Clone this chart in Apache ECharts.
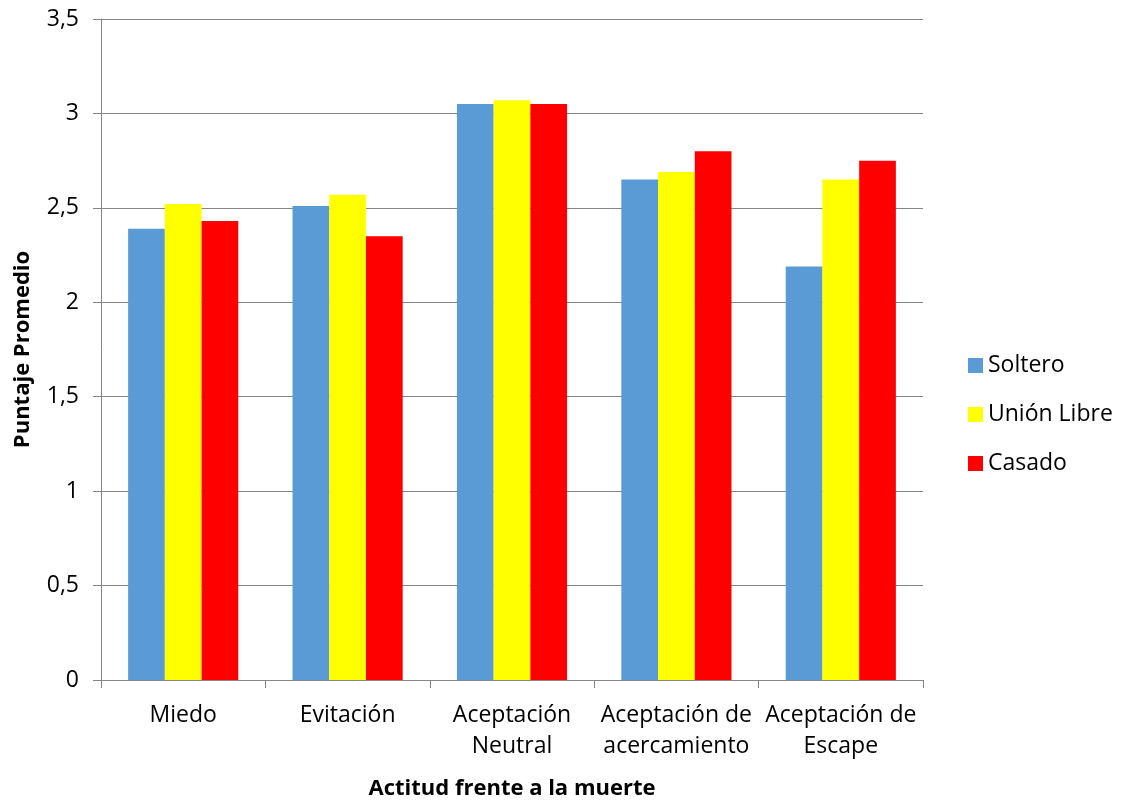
<!DOCTYPE html>
<html>
<head>
<meta charset="utf-8">
<script src="https://cdn.jsdelivr.net/npm/echarts@6/dist/echarts.min.js"></script>
<style>
html, body { margin: 0; padding: 0; background: #fff; }
#chart { width: 1124px; height: 801px; }
</style>
</head>
<body>
<div id="chart"></div>
<script>
// Attitude towards death: mean score by marital status
const categories = ['Miedo', 'Evitación', 'Aceptación\nNeutral', 'Aceptación de\nacercamiento', 'Aceptación de\nEscape'];
const soltero = [2.39, 2.51, 3.05, 2.65, 2.19];
const unionLibre = [2.52, 2.57, 3.07, 2.69, 2.65];
const casado = [2.43, 2.35, 3.05, 2.80, 2.75];
const seriesNames = ['Soltero', 'Unión Libre', 'Casado'];
const seriesColors = ['#5b9bd5', '#ffff00', '#ff0000'];

const FONT = '"Open Sans", Lato, sans-serif';
const axisGray = '#868686';

const chart = echarts.init(document.getElementById('chart'));
const values = [soltero, unionLibre, casado];

chart.setOption({
  animation: false,
  textStyle: { fontFamily: FONT },
  grid: { left: 101, right: 201, top: 19, bottom: 121, containLabel: false, outerBoundsMode: 'none' },
  legend: {
    orient: 'vertical',
    left: 963,
    top: 349,
    itemWidth: 15,
    itemHeight: 15,
    itemGap: 26,
    icon: 'rect',
    textStyle: { fontFamily: FONT, fontSize: 23, color: '#000' },
    data: seriesNames
  },
  xAxis: {
    type: 'category',
    data: categories,
    name: 'Actitud frente a la muerte',
    nameLocation: 'middle',
    nameGap: 98,
    nameTextStyle: { fontFamily: FONT, fontSize: 22, fontWeight: 'bold', color: '#000' },
    axisLine: { lineStyle: { color: axisGray, width: 1 } },
    axisTick: { show: true, length: 8, lineStyle: { color: axisGray } },
    axisLabel: { fontFamily: FONT, fontSize: 23, color: '#000', margin: 20, lineHeight: 31, interval: 0 }
  },
  yAxis: {
    type: 'value',
    min: 0,
    max: 3.5,
    interval: 0.5,
    name: 'Puntaje Promedio',
    nameLocation: 'middle',
    nameGap: 67,
    nameRotate: 90,
    nameTextStyle: { fontFamily: FONT, fontSize: 22, fontWeight: 'bold', color: '#000' },
    axisLine: { show: true, lineStyle: { color: axisGray, width: 1 } },
    axisTick: { show: true, length: 8, lineStyle: { color: axisGray } },
    splitLine: { show: true, lineStyle: { color: axisGray, width: 1 } },
    axisLabel: {
      fontFamily: FONT, fontSize: 23, color: '#000', margin: 22,
      formatter: v => String(v).replace('.', ',')
    }
  },
  series: seriesNames.map((name, i) => ({
    name: name,
    type: 'bar',
    data: values[i],
    itemStyle: { color: seriesColors[i] },
    barGap: '0%',
    barCategoryGap: '33%'
  }))
});
</script>
</body>
</html>
